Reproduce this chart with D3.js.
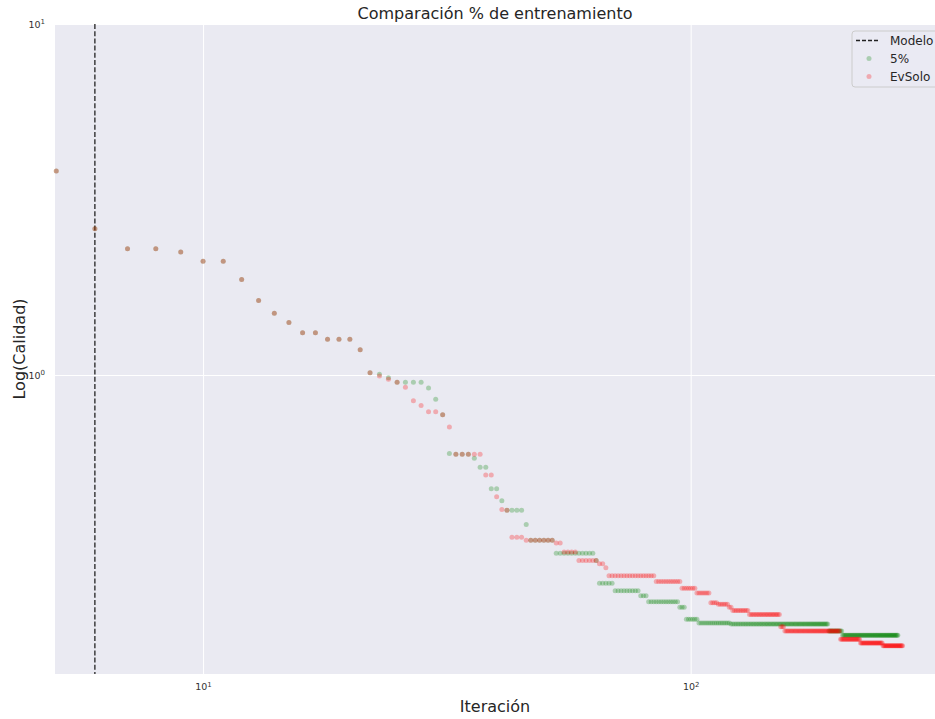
<!DOCTYPE html>
<html>
<head>
<meta charset="utf-8">
<script src="https://cdn.jsdelivr.net/npm/d3@7/dist/d3.min.js"></script>
<style>
    body { margin: 0; background: #ffffff; }
    text { font-family: "DejaVu Sans", sans-serif; }
</style>
</head>
<body>
<div id="grafico"></div>
<script>
// tramos: [desde iteracion, hasta iteracion, calidad]
// hay un punto por cada iteracion entera dentro del tramo
const tramos5 = [
    [5, 5, 3.81], [6, 6, 2.61], [7, 8, 2.29], [9, 9, 2.24], [10, 11, 2.11],
    [12, 12, 1.87], [13, 13, 1.63], [14, 14, 1.50], [15, 15, 1.41], [16, 17, 1.32],
    [18, 20, 1.265], [21, 21, 1.18], [22, 22, 1.015], [23, 23, 1.005], [24, 24, 0.982],
    [25, 28, 0.953], [29, 29, 0.918], [30, 30, 0.853], [31, 31, 0.770], [32, 32, 0.597],
    [33, 35, 0.594], [36, 36, 0.579], [37, 38, 0.546], [39, 40, 0.474], [41, 41, 0.438],
    [42, 45, 0.412], [46, 46, 0.375], [47, 52, 0.338], [53, 63, 0.3105], [64, 64, 0.296],
    [65, 69, 0.255], [70, 78, 0.2429], [79, 81, 0.235], [82, 94, 0.226], [95, 97, 0.218],
    [98, 103, 0.2014], [104, 120, 0.1965], [121, 191, 0.1952], [192, 204, 0.1865],
    [205, 266, 0.1813]
];

const tramosEvSolo = [
    [5, 5, 3.81], [6, 6, 2.61], [7, 8, 2.29], [9, 9, 2.24], [10, 11, 2.11],
    [12, 12, 1.87], [13, 13, 1.63], [14, 14, 1.50], [15, 15, 1.41], [16, 17, 1.32],
    [18, 20, 1.265], [21, 21, 1.18], [22, 22, 1.015], [23, 23, 0.9935], [24, 24, 0.972],
    [25, 25, 0.953], [26, 26, 0.922], [27, 27, 0.845], [28, 28, 0.818], [29, 30, 0.785],
    [31, 31, 0.770], [32, 32, 0.711], [33, 37, 0.594], [38, 39, 0.519], [40, 40, 0.450],
    [41, 41, 0.414], [42, 42, 0.412], [43, 45, 0.345], [46, 52, 0.338], [53, 54, 0.332],
    [55, 58, 0.313], [59, 64, 0.296], [65, 66, 0.290], [67, 67, 0.2825], [68, 84, 0.268],
    [85, 95, 0.258], [96, 102, 0.2468], [103, 109, 0.2392], [110, 113, 0.2245],
    [114, 119, 0.2222], [120, 121, 0.2178], [122, 131, 0.2131], [132, 152, 0.2076],
    [153, 155, 0.1918], [156, 202, 0.1863], [203, 222, 0.1766], [223, 247, 0.1723],
    [248, 272, 0.1693]
];

const modeloIteracion = 6;
const xTicks = [10, 100];
const yTicks = [1, 10];
const leyenda = ["Modelo", "5%", "EvSolo"];
const colores = {"5%": "green", "EvSolo": "red"};

function expandir(tramos) {
    var puntos = [];
    tramos.forEach(function (t) {
        for (var i = t[0]; i <= t[1]; i++) {
            puntos.push({iter: i, calidad: t[2]});
        }
    });
    return puntos;
}

var margin = {top: 24, right: 0, bottom: 45, left: 55},
    width = 935 - margin.left - margin.right,
    height = 719 - margin.top - margin.bottom;

const svg = d3.select('#grafico')
    .append('svg')
    .attr('width', 935)
    .attr('height', 719)
    .append('g')
    .attr('transform', `translate(${margin.left},${margin.top})`);

const x = d3.scaleLog()
    .domain([4.97, 317])
    .range([0, width]);

const y = d3.scaleLog()
    .domain([0.1406, 10])
    .range([height, 0]);

// fondo estilo seaborn darkgrid
svg.append('rect')
    .attr('width', width)
    .attr('height', height)
    .attr('fill', '#eaeaf2');

// rejilla
svg.append('g')
    .attr('transform', `translate(0, ${height})`)
    .call(d3.axisBottom(x).tickValues(xTicks).tickSize(-height).tickFormat(''))
    .call(g => g.select('.domain').remove())
    .selectAll('line').attr('stroke', '#ffffff').attr('stroke-width', 1);

svg.append('g')
    .call(d3.axisLeft(y).tickValues(yTicks).tickSize(-width).tickFormat(''))
    .call(g => g.select('.domain').remove())
    .selectAll('line').attr('stroke', '#ffffff').attr('stroke-width', 1);

// etiquetas de los ejes con potencia de diez
function potencia(sel) {
    sel.each(function (d) {
        var t = d3.select(this);
        t.text(null);
        t.append('tspan').text('10');
        t.append('tspan')
            .attr('dy', '-0.45em')
            .attr('font-size', '7px')
            .text(Math.round(Math.log10(d)));
    });
}

const ejeX = svg.append('g')
    .attr('transform', `translate(0, ${height})`)
    .call(d3.axisBottom(x).tickValues(xTicks).tickSize(0).tickPadding(9));
ejeX.select('.domain').remove();
ejeX.selectAll('text')
    .attr('font-size', '9.5px')
    .attr('fill', '#333333')
    .call(potencia);

const ejeY = svg.append('g')
    .call(d3.axisLeft(y).tickValues(yTicks).tickSize(0).tickPadding(10));
ejeY.select('.domain').remove();
ejeY.selectAll('text')
    .attr('font-size', '9.5px')
    .attr('fill', '#333333')
    .call(potencia);

// linea vertical del modelo
svg.append('line')
    .attr('x1', x(modeloIteracion))
    .attr('x2', x(modeloIteracion))
    .attr('y1', 0)
    .attr('y2', height)
    .attr('stroke', '#222222')
    .attr('stroke-width', 1.3)
    .attr('stroke-dasharray', '5,2.2');

const puntos = svg.append('g');

[["5%", tramos5], ["EvSolo", tramosEvSolo]].forEach(function (s) {
    puntos.append('g')
        .selectAll('circle')
        .data(expandir(s[1]))
        .enter().append('circle')
        .attr('cx', d => x(d.iter))
        .attr('cy', d => y(d.calidad))
        .attr('r', 2.5)
        .attr('fill', colores[s[0]])
        .attr('fill-opacity', 0.27);
});

// titulos
svg.append('text')
    .attr('x', width / 2)
    .attr('y', -5)
    .attr('text-anchor', 'middle')
    .attr('font-size', '16px')
    .attr('fill', '#262626')
    .text('Comparación % de entrenamiento');

svg.append('text')
    .attr('x', width / 2)
    .attr('y', height + 38)
    .attr('text-anchor', 'middle')
    .attr('font-size', '16px')
    .attr('fill', '#262626')
    .text('Iteración');

svg.append('text')
    .attr('transform', `translate(${-30}, ${height / 2}) rotate(-90)`)
    .attr('text-anchor', 'middle')
    .attr('font-size', '16px')
    .attr('fill', '#262626')
    .text('Log(Calidad)');

// leyenda
const ley = svg.append('g').attr('transform', `translate(${852 - margin.left}, ${31 - margin.top})`);
ley.append('rect')
    .attr('width', 100)
    .attr('height', 56)
    .attr('rx', 3)
    .attr('fill', '#eaeaf2')
    .attr('fill-opacity', 0.8)
    .attr('stroke', '#cccccc');

leyenda.forEach(function (nombre, i) {
    var fy = 9.5 + i * 18;
    if (nombre === 'Modelo') {
        ley.append('line')
            .attr('x1', 4).attr('x2', 28)
            .attr('y1', fy).attr('y2', fy)
            .attr('stroke', '#222222')
            .attr('stroke-width', 1.4)
            .attr('stroke-dasharray', '4,2');
    } else {
        ley.append('circle')
            .attr('cx', 17).attr('cy', fy)
            .attr('r', 2.5)
            .attr('fill', colores[nombre])
            .attr('fill-opacity', 0.27);
    }
    ley.append('text')
        .attr('x', 38)
        .attr('y', fy + 4.3)
        .attr('font-size', '12px')
        .attr('fill', '#262626')
        .text(nombre);
});
</script>
</body>
</html>
